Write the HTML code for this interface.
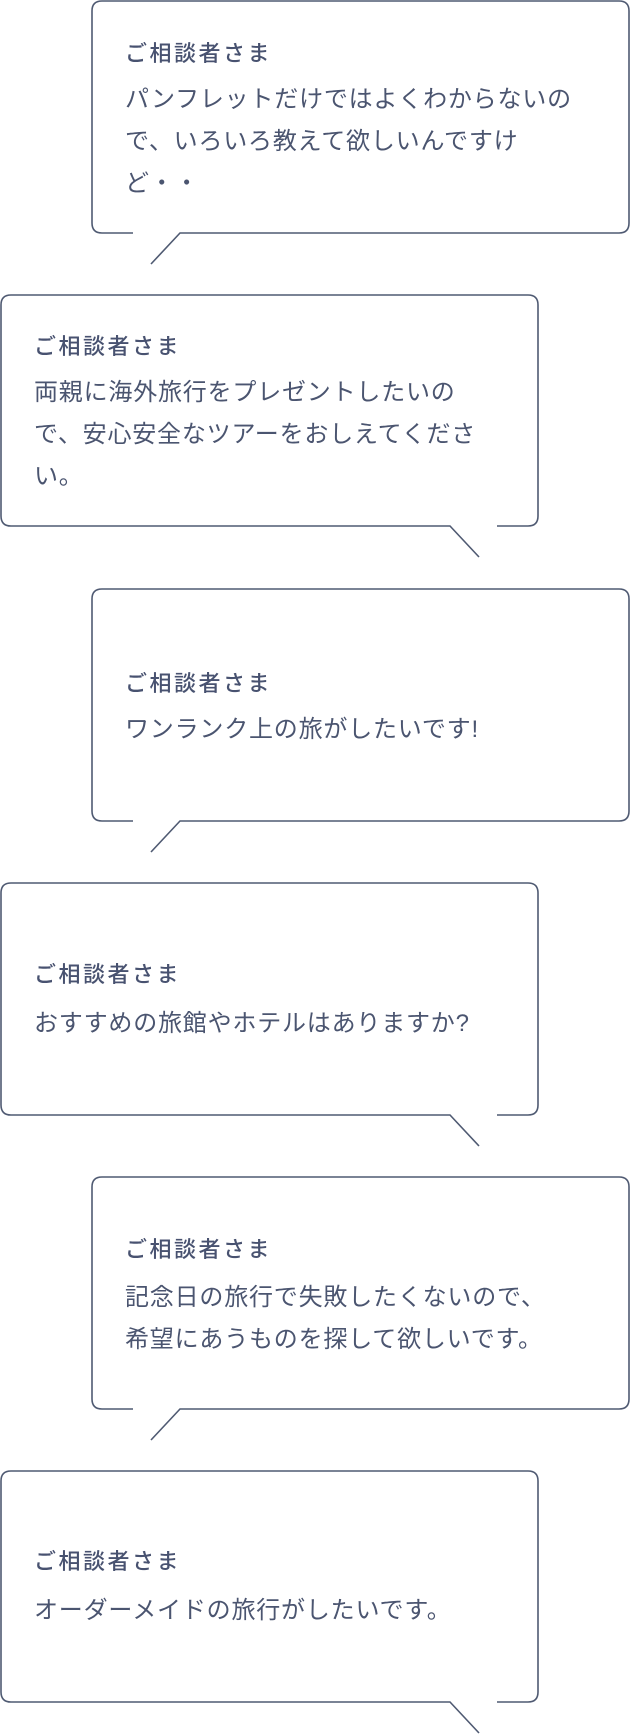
<!DOCTYPE html>
<html><head><meta charset="utf-8"><style>
body{margin:0;width:630px;height:1734px;background:#fff;position:relative;overflow:hidden;font-family:"Liberation Sans","Noto Sans CJK JP",sans-serif;color:#4b5570}
svg{position:absolute;left:0;top:0}
.t{position:absolute;white-space:nowrap}
.l{font-size:22px;font-family:"Liberation Sans","Noto Sans CJK JP Medium","Noto Sans CJK JP",sans-serif;font-weight:500;letter-spacing:2.5px;line-height:30px;color:#485270}
.b{font-size:24px;letter-spacing:0.8px;line-height:42px}
</style></head><body>
<svg width="630" height="1734" fill="none" stroke="#4f5a72" stroke-width="1.6">
<path d="M133,233 H102 Q92,233 92,223 V11 Q92,1 102,1 H619 Q629,1 629,11 V223 Q629,233 619,233 H180 L151,264"/>
<path d="M479,557 L450,526 H11 Q1,526 1,516 V305 Q1,295 11,295 H528 Q538,295 538,305 V516 Q538,526 528,526 H497"/>
<path d="M133,821 H102 Q92,821 92,811 V599 Q92,589 102,589 H619 Q629,589 629,599 V811 Q629,821 619,821 H180 L151,852"/>
<path d="M479,1146 L450,1115 H11 Q1,1115 1,1105 V893 Q1,883 11,883 H528 Q538,883 538,893 V1105 Q538,1115 528,1115 H497"/>
<path d="M133,1409 H102 Q92,1409 92,1399 V1187 Q92,1177 102,1177 H619 Q629,1177 629,1187 V1399 Q629,1409 619,1409 H180 L151,1440"/>
<path d="M479,1733 L450,1702 H11 Q1,1702 1,1692 V1481 Q1,1471 11,1471 H528 Q538,1471 538,1481 V1692 Q538,1702 528,1702 H497"/>
</svg>

<div class="t l" style="left:125px;top:39px">ご相談者さま</div>
<div class="t b" style="left:125px;top:79px">パンフレットだけではよくわからないの<br>で、いろいろ教えて欲しいんですけ<br>ど・・</div>

<div class="t l" style="left:34px;top:332px">ご相談者さま</div>
<div class="t b" style="left:34px;top:372px">両親に海外旅行をプレゼントしたいの<br>で、安心安全なツアーをおしえてくださ<br>い。</div>

<div class="t l" style="left:125px;top:669px">ご相談者さま</div>
<div class="t b" style="left:125px;top:709px">ワンランク上の旅がしたいです!</div>

<div class="t l" style="left:34px;top:960px">ご相談者さま</div>
<div class="t b" style="left:34px;top:1003px">おすすめの旅館やホテルはありますか?</div>

<div class="t l" style="left:125px;top:1235px">ご相談者さま</div>
<div class="t b" style="left:125px;top:1277px">記念日の旅行で失敗したくないので、<br>希望にあうものを探して欲しいです。</div>

<div class="t l" style="left:34px;top:1547px">ご相談者さま</div>
<div class="t b" style="left:34px;top:1590px">オーダーメイドの旅行がしたいです。</div>
</body></html>
